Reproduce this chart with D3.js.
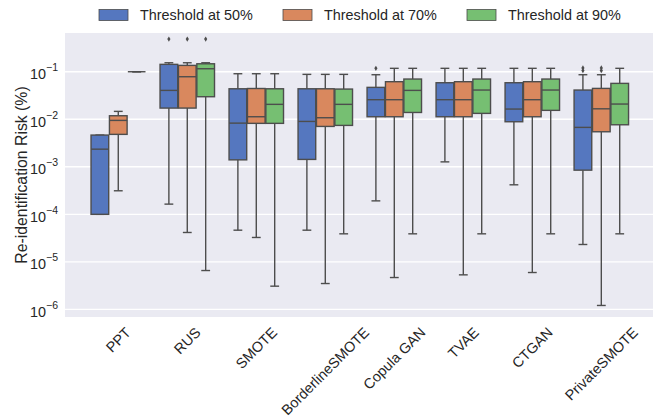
<!DOCTYPE html>
<html>
<head>
<meta charset="utf-8">
<script src="https://cdn.jsdelivr.net/npm/d3@7"></script>
<style>
body { margin: 0; background: #fff; }
svg { font-family: "Liberation Sans", Arial, sans-serif; display: block; }
</style>
</head>
<body>
<div id="chart"></div>
<script>
// categories on the x axis
const categories = ["PPT", "RUS", "SMOTE", "BorderlineSMOTE", "Copula GAN", "TVAE", "CTGAN", "PrivateSMOTE"];
const thresholds = ["Threshold at 50%", "Threshold at 70%", "Threshold at 90%"];
const colors = ["#5577bf", "#d9885e", "#76bf72"];
const yTicks = [-6, -5, -4, -3, -2, -1];

// box stats (values in %)
const low50 = [1e-4, 1.64e-4, 4.64e-5, 4.64e-5, 1.92e-4, 1.27e-3, 4.18e-4, 2.32e-5];
const q1_50 = [1e-4, 0.0172, 1.40e-3, 1.43e-3, 0.0113, 0.0113, 8.87e-3, 8.5e-4];
const med50 = [2.35e-3, 0.0405, 8.3e-3, 9.0e-3, 0.0258, 0.0258, 0.0164, 6.75e-3];
const q3_50 = [4.65e-3, 0.143, 0.0438, 0.0438, 0.0469, 0.0587, 0.0587, 0.0412];
const high50 = [4.65e-3, 0.1545, 0.0908, 0.088, 0.0865, 0.118, 0.118, 0.0865];
const out50 = [[], [0.487], [], [], [0.118], [], [], [0.106, 0.12]];

const low70 = [3.13e-4, 4.15e-5, 3.26e-5, 3.5e-6, 4.68e-6, 5.33e-6, 5.97e-6, 1.21e-6];
const q1_70 = [4.81e-3, 0.0172, 8.2e-3, 7.07e-3, 0.0113, 0.0113, 0.0113, 5.46e-3];
const med70 = [9.46e-3, 0.0785, 0.0113, 0.01077, 0.0258, 0.0258, 0.0258, 0.0166];
const q3_70 = [0.01186, 0.136, 0.0444, 0.0438, 0.0617, 0.0617, 0.0617, 0.0446];
const high70 = [0.01466, 0.1545, 0.0908, 0.088, 0.118, 0.118, 0.118, 0.0865];
const out70 = [[], [0.487], [], [], [], [], [], [0.106, 0.12]];

const low90 = [0.1, 6.57e-6, 3.08e-6, 3.89e-5, 3.89e-5, 3.89e-5, 3.89e-5, 3.89e-5];
const q1_90 = [0.1, 0.0298, 8.2e-3, 7.43e-3, 0.0139, 0.0133, 0.0154, 7.66e-3];
const med90 = [0.1, 0.1156, 0.0206, 0.0206, 0.0405, 0.0412, 0.0412, 0.0209];
const q3_90 = [0.1, 0.147, 0.0438, 0.0432, 0.0702, 0.0702, 0.0702, 0.0569];
const high90 = [0.1, 0.1545, 0.0908, 0.088, 0.118, 0.118, 0.118, 0.118];
const out90 = [[], [0.487], [], [], [], [], [], []];

const W = 657, H = 419;
const pLeft = 65, pRight = 653, pTop = 33, pBottom = 317;
const edge = "#4d4d4d";

const svg = d3.select("#chart").append("svg").attr("width", W).attr("height", H);

const x = d3.scaleLinear().domain([-0.772, 7.749]).range([pLeft, pRight]);
const y = d3.scaleLog().domain([Math.pow(10, -6.16), Math.pow(10, -0.185)]).range([pBottom, pTop]);

svg.append("rect").attr("x", pLeft).attr("y", pTop)
    .attr("width", pRight - pLeft).attr("height", pBottom - pTop).attr("fill", "#eaeaf2");

// grid
svg.append("g").selectAll("line").data(yTicks).join("line")
    .attr("x1", pLeft).attr("x2", pRight)
    .attr("y1", d => y(Math.pow(10, d))).attr("y2", d => y(Math.pow(10, d)))
    .attr("stroke", "#fff").attr("stroke-width", 1.4);

// y tick labels 10^n
const yl = svg.append("g").selectAll("text").data(yTicks).join("text")
    .attr("x", 58).attr("y", d => y(Math.pow(10, d)) + 7.5)
    .attr("text-anchor", "end").attr("fill", "#262626").style("font-size", "14.4px");
yl.append("tspan").text("10");
yl.append("tspan").attr("dy", -8).style("font-size", "10.5px").text(d => "\u2212" + (-d));

svg.append("text")
    .attr("transform", "translate(27," + (pTop + pBottom) / 2 + ")rotate(-90)")
    .attr("text-anchor", "middle").attr("fill", "#262626")
    .style("font-size", "15.8px").text("Re-identification Risk (%)");

// x labels rotated 45
categories.forEach((c, i) => {
    const t = svg.append("text").style("font-size", "14.4px").attr("fill", "#262626")
        .attr("text-anchor", "middle").text(c);
    const len = t.node().getComputedTextLength();
    const h = (len + 11) * Math.SQRT1_2;
    t.attr("transform", "translate(" + x(i) + "," + (pBottom + 5 + h / 2 + 4) + ")rotate(-45)")
        .attr("dy", "0.35em");
});

// boxes
const series = [
    {low: low50, q1: q1_50, med: med50, q3: q3_50, high: high50, out: out50},
    {low: low70, q1: q1_70, med: med70, q3: q3_70, high: high70, out: out70},
    {low: low90, q1: q1_90, med: med90, q3: q3_90, high: high90, out: out90}
];
const step = 0.8 / 3;
const bw = x(step * 0.96) - x(0);

series.forEach((s, h) => {
    const g = svg.append("g");
    categories.forEach((c, i) => {
        const cx = x(i + (h - 1) * step);
        // whiskers
        g.append("line").attr("x1", cx).attr("x2", cx)
            .attr("y1", y(s.q3[i])).attr("y2", y(s.high[i]))
            .attr("stroke", edge).attr("stroke-width", 1.4);
        g.append("line").attr("x1", cx).attr("x2", cx)
            .attr("y1", y(s.q1[i])).attr("y2", y(s.low[i]))
            .attr("stroke", edge).attr("stroke-width", 1.4);
        [s.low[i], s.high[i]].forEach(v => {
            g.append("line").attr("x1", cx - bw / 4).attr("x2", cx + bw / 4)
                .attr("y1", y(v)).attr("y2", y(v))
                .attr("stroke", edge).attr("stroke-width", 1.4);
        });
        g.append("rect").attr("x", cx - bw / 2).attr("y", y(s.q3[i]))
            .attr("width", bw).attr("height", Math.max(0, y(s.q1[i]) - y(s.q3[i])))
            .attr("fill", colors[h]).attr("stroke", edge).attr("stroke-width", 1.4);
        g.append("line").attr("x1", cx - bw / 2).attr("x2", cx + bw / 2)
            .attr("y1", y(s.med[i])).attr("y2", y(s.med[i]))
            .attr("stroke", edge).attr("stroke-width", 1.4);
        s.out[i].forEach(v => {
            g.append("path")
                .attr("d", "M" + cx + "," + (y(v) - 2.6) + "L" + (cx + 1.6) + "," + y(v) +
                    "L" + cx + "," + (y(v) + 2.6) + "L" + (cx - 1.6) + "," + y(v) + "Z")
                .attr("fill", edge);
        });
    });
});

// legend
const legX = [99, 283, 467];
thresholds.forEach((t, i) => {
    svg.append("rect").attr("x", legX[i]).attr("y", 9.5).attr("width", 29).attr("height", 11)
        .attr("fill", colors[i]).attr("stroke", edge).attr("stroke-width", 0.8);
    svg.append("text").attr("x", legX[i] + 41).attr("y", 20)
        .attr("fill", "#262626").style("font-size", "14.4px").text(t);
});
</script>
</body>
</html>
